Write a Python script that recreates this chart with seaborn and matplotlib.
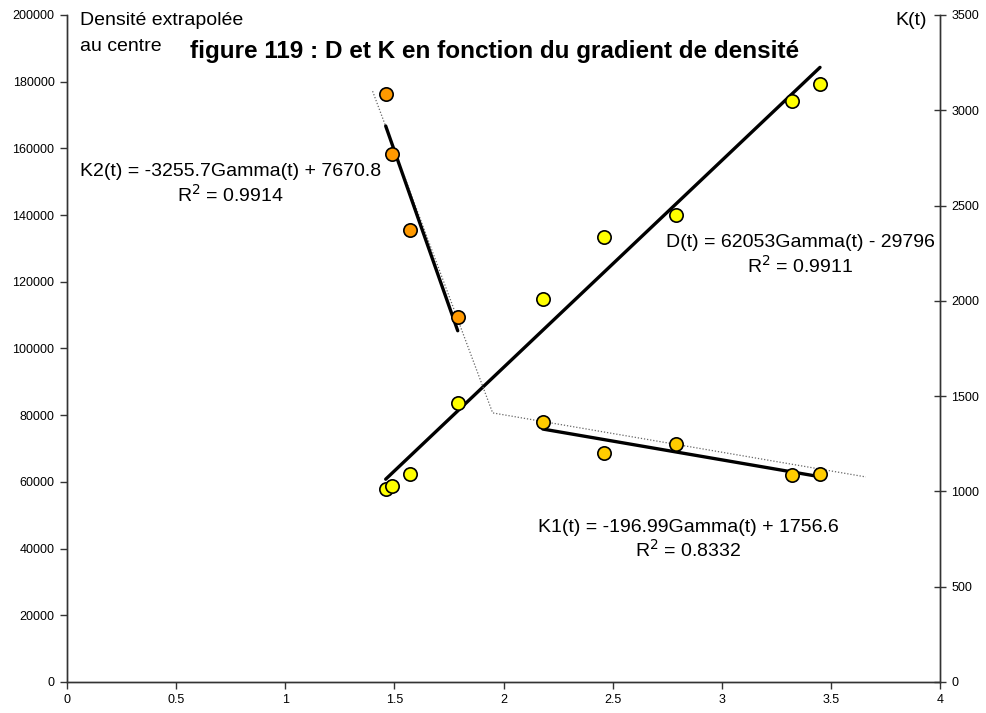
import numpy as np
import pandas as pd
import matplotlib
matplotlib.use("Agg")
import matplotlib.pyplot as plt
import seaborn as sns

# gradient de densité (Gamma) and values
gamma_d = [1.46, 1.49, 1.57, 1.79, 2.18, 2.46, 2.79, 3.32, 3.45]
density = [57900, 58800, 62400, 83700, 114800, 133400, 140000, 174200, 179200]

gamma_k2 = [1.46, 1.49, 1.57, 1.79]
k2_vals = [3085, 2771, 2372, 1915]

gamma_k1 = [2.18, 2.46, 2.79, 3.32, 3.45]
k1_vals = [1364, 1202, 1249, 1086, 1091]

# broken-line model for K (dotted)
gamma_model = [1.40, 1.95, 3.66]
k_model = [3100, 1412, 1076]

# trendline coefficients (slope, intercept) from the labels
coef_d = [62053, -29796]
coef_k2 = [-3255.7, 7670.8]
coef_k1 = [-196.99, 1756.6]

sns.set_theme(style="white")
plt.rcParams['font.family'] = ['Liberation Sans', 'DejaVu Sans']
plt.rcParams['text.color'] = 'black'
plt.rcParams['xtick.labelcolor'] = 'black'
plt.rcParams['ytick.labelcolor'] = 'black'

fig = plt.figure(figsize=(9.86, 7.13), dpi=100)
ax = fig.add_axes([0.068, 0.0435, 0.8854, 0.9355])
ax2 = ax.twinx()


def trend(xs, coef):
    x = np.array([min(xs), max(xs)])
    return pd.DataFrame({'x': x, 'y': coef[0] * x + coef[1]})


#..left axis: density
td = trend(gamma_d, coef_d)
sns.lineplot(data=td, x='x', y='y', ax=ax, color='black', lw=2.4, zorder=3)
sns.scatterplot(x=gamma_d, y=density, ax=ax, s=92, color='#FFFF00',
                edgecolor='black', linewidth=1.2, zorder=4)

#..right axis: K
sns.lineplot(x=gamma_model, y=k_model, ax=ax2, color='#666666', lw=0.9,
             linestyle=(0, (1, 1.5)), sort=False, zorder=2)
tk2 = trend(gamma_k2, coef_k2)
tk1 = trend(gamma_k1, coef_k1)
sns.lineplot(data=tk2, x='x', y='y', ax=ax2, color='black', lw=2.4, zorder=3)
sns.lineplot(data=tk1, x='x', y='y', ax=ax2, color='black', lw=2.4, zorder=3)
sns.scatterplot(x=gamma_k2, y=k2_vals, ax=ax2, s=92, color='#FF9900',
                edgecolor='black', linewidth=1.2, zorder=4)
sns.scatterplot(x=gamma_k1, y=k1_vals, ax=ax2, s=92, color='#FFCC00',
                edgecolor='black', linewidth=1.2, zorder=4)

ax.set_xlim(0, 4)
ax.set_ylim(0, 200000)
ax2.set_ylim(0, 3500)
ax.set_xticks(np.arange(0, 4.01, 0.5))
ax.set_xticklabels(['0', '0.5', '1', '1.5', '2', '2.5', '3', '3.5', '4'])
ax.set_yticks(np.arange(0, 200001, 20000))
ax2.set_yticks(np.arange(0, 3501, 500))
ax.set_xlabel('')
ax.set_ylabel('')
ax2.set_ylabel('')

for a in (ax, ax2):
    a.spines['top'].set_visible(False)
    for s in ('left', 'right', 'bottom'):
        a.spines[s].set_color('#333333')
        a.spines[s].set_linewidth(1.0)
ax.tick_params(axis='both', which='major', direction='out', length=5,
               width=1, color='#333333', labelsize=9, pad=4, left=True, bottom=True,
               labelcolor='black')
ax2.tick_params(axis='y', direction='inout', length=8, width=1,
                color='#333333', labelsize=9, pad=4, right=True, labelcolor='black')

#..texts
ax.text(0.0149, 1.004, 'Densité extrapolée', transform=ax.transAxes,
        fontsize=14, va='top', ha='left')
ax.text(0.0149, 0.966, 'au centre', transform=ax.transAxes,
        fontsize=14, va='top', ha='left')
ax.text(0.490, 0.945, 'figure 119 : D et K en fonction du gradient de densité',
        transform=ax.transAxes, fontsize=17.5, fontweight='bold', ha='center', va='center')
ax.text(0.985, 1.004, 'K(t)', transform=ax.transAxes, fontsize=14,
        ha='right', va='top')
ax.text(0.0149, 0.746, 'K2(t) = -3255.7Gamma(t) + 7670.8\nR$^2$ = 0.9914',
        transform=ax.transAxes, fontsize=14, ha='left', va='center',
        multialignment='center', linespacing=1.2)
ax.text(0.994, 0.640, 'D(t) = 62053Gamma(t) - 29796\nR$^2$ = 0.9911',
        transform=ax.transAxes, fontsize=14, ha='right', va='center',
        multialignment='center', linespacing=1.2)
ax.text(0.5395, 0.213, 'K1(t) = -196.99Gamma(t) + 1756.6\nR$^2$ = 0.8332',
        transform=ax.transAxes, fontsize=14, ha='left', va='center',
        multialignment='center', linespacing=1.2)

fig.savefig('out.png', dpi=100)
